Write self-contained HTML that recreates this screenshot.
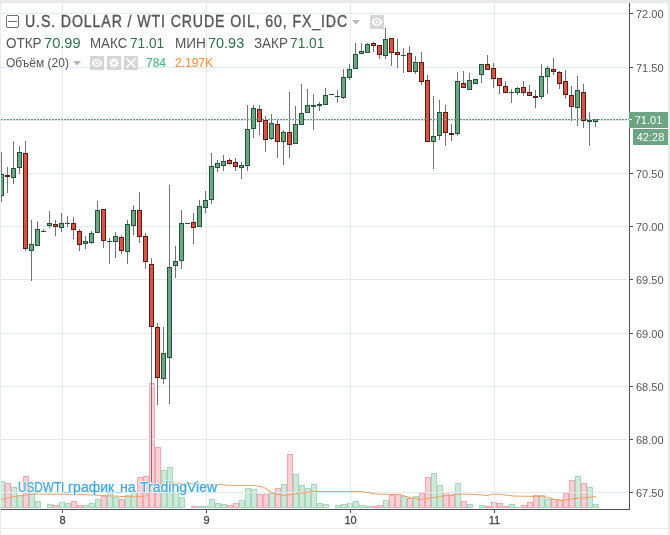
<!DOCTYPE html>
<html><head><meta charset="utf-8"><style>
html,body{margin:0;padding:0;}
body{width:670px;height:535px;background:#e7ebee;position:relative;overflow:hidden;font-family:"Liberation Sans",sans-serif;}
.panel{position:absolute;left:1px;top:3px;width:667px;height:525px;background:#fff;border-radius:3px 4px 0 0;}
.panel2{position:absolute;left:1px;top:529px;width:667px;height:6px;background:#fff;}
svg{position:absolute;left:0;top:0;}
.a{position:absolute;white-space:nowrap;}
.pl{position:absolute;left:636px;font-size:11px;color:#555;line-height:14px;}
.tl{position:absolute;top:513px;width:41px;text-align:center;font-size:11px;color:#444;line-height:14px;-webkit-text-stroke:0.3px #444;}
.t1{top:13px;font-size:16px;line-height:18px;color:#555;transform-origin:0 0;-webkit-text-stroke:0.35px #555;}
.t2{top:34px;font-size:15px;line-height:17px;color:#555;transform-origin:0 0;}
.t2g{top:34px;font-size:15px;line-height:17px;color:#2f6f47;transform-origin:0 0;}
.t3{top:56px;font-size:12px;line-height:14px;}
.box{position:absolute;width:14px;height:14px;background:rgba(200,200,200,0.75);}
.wm{top:480px;font-size:14px;line-height:15px;color:#3fa9dd;-webkit-text-stroke:0.25px #3fa9dd;text-shadow:1px 0 #fff,-1px 0 #fff,0 1px #fff,0 -1px #fff;}
.lbl{position:absolute;background:#6ba583;color:#fff;font-size:11px;line-height:16px;text-align:center;}
</style></head><body>
<div class="panel"></div>
<div class="panel2"></div>
<svg width="670" height="535" shape-rendering="crispEdges">
<rect x="-1" y="481" width="6" height="27" fill="#a3d9bb"/><rect x="0" y="482" width="4" height="25" fill="#cde9da"/><rect x="5" y="483" width="6" height="25" fill="#f4a6b1"/><rect x="6" y="484" width="4" height="23" fill="#f9d0d5"/><rect x="11" y="487" width="6" height="21" fill="#a3d9bb"/><rect x="12" y="488" width="4" height="19" fill="#cde9da"/><rect x="17" y="495" width="6" height="13" fill="#a3d9bb"/><rect x="18" y="496" width="4" height="11" fill="#cde9da"/><rect x="23" y="476" width="6" height="32" fill="#f4a6b1"/><rect x="24" y="477" width="4" height="30" fill="#f9d0d5"/><rect x="29" y="485" width="6" height="23" fill="#a3d9bb"/><rect x="30" y="486" width="4" height="21" fill="#cde9da"/><rect x="35" y="501" width="6" height="7" fill="#a3d9bb"/><rect x="36" y="502" width="4" height="5" fill="#cde9da"/><rect x="47" y="504" width="6" height="4" fill="#a3d9bb"/><rect x="48" y="505" width="4" height="2" fill="#cde9da"/><rect x="53" y="505" width="6" height="3" fill="#f4a6b1"/><rect x="54" y="506" width="4" height="1" fill="#f9d0d5"/><rect x="59" y="502" width="6" height="6" fill="#a3d9bb"/><rect x="60" y="503" width="4" height="4" fill="#cde9da"/><rect x="65" y="503" width="6" height="5" fill="#a3d9bb"/><rect x="66" y="504" width="4" height="3" fill="#cde9da"/><rect x="71" y="501" width="6" height="7" fill="#f4a6b1"/><rect x="72" y="502" width="4" height="5" fill="#f9d0d5"/><rect x="77" y="505" width="6" height="3" fill="#f4a6b1"/><rect x="78" y="506" width="4" height="1" fill="#f9d0d5"/><rect x="83" y="505" width="6" height="3" fill="#a3d9bb"/><rect x="84" y="506" width="4" height="1" fill="#cde9da"/><rect x="89" y="503" width="6" height="5" fill="#a3d9bb"/><rect x="90" y="504" width="4" height="3" fill="#cde9da"/><rect x="95" y="499" width="6" height="9" fill="#a3d9bb"/><rect x="96" y="500" width="4" height="7" fill="#cde9da"/><rect x="101" y="496" width="6" height="12" fill="#f4a6b1"/><rect x="102" y="497" width="4" height="10" fill="#f9d0d5"/><rect x="107" y="492" width="6" height="16" fill="#a3d9bb"/><rect x="108" y="493" width="4" height="14" fill="#cde9da"/><rect x="113" y="497" width="6" height="11" fill="#a3d9bb"/><rect x="114" y="498" width="4" height="9" fill="#cde9da"/><rect x="119" y="499" width="6" height="9" fill="#f4a6b1"/><rect x="120" y="500" width="4" height="7" fill="#f9d0d5"/><rect x="125" y="495" width="6" height="13" fill="#a3d9bb"/><rect x="126" y="496" width="4" height="11" fill="#cde9da"/><rect x="131" y="492" width="6" height="16" fill="#a3d9bb"/><rect x="132" y="493" width="4" height="14" fill="#cde9da"/><rect x="137" y="477" width="6" height="31" fill="#f4a6b1"/><rect x="138" y="478" width="4" height="29" fill="#f9d0d5"/><rect x="143" y="476" width="6" height="32" fill="#f4a6b1"/><rect x="144" y="477" width="4" height="30" fill="#f9d0d5"/><rect x="149" y="383" width="6" height="125" fill="#f4a6b1"/><rect x="150" y="384" width="4" height="123" fill="#f9d0d5"/><rect x="155" y="447" width="6" height="61" fill="#f4a6b1"/><rect x="156" y="448" width="4" height="59" fill="#f9d0d5"/><rect x="161" y="470" width="6" height="38" fill="#a3d9bb"/><rect x="162" y="471" width="4" height="36" fill="#cde9da"/><rect x="167" y="467" width="6" height="41" fill="#a3d9bb"/><rect x="168" y="468" width="4" height="39" fill="#cde9da"/><rect x="173" y="492" width="6" height="16" fill="#a3d9bb"/><rect x="174" y="493" width="4" height="14" fill="#cde9da"/><rect x="179" y="497" width="6" height="11" fill="#a3d9bb"/><rect x="180" y="498" width="4" height="9" fill="#cde9da"/><rect x="191" y="506" width="6" height="2" fill="#f4a6b1"/><rect x="197" y="506" width="6" height="2" fill="#a3d9bb"/><rect x="203" y="506" width="6" height="2" fill="#a3d9bb"/><rect x="209" y="499" width="6" height="9" fill="#a3d9bb"/><rect x="210" y="500" width="4" height="7" fill="#cde9da"/><rect x="215" y="503" width="6" height="5" fill="#a3d9bb"/><rect x="216" y="504" width="4" height="3" fill="#cde9da"/><rect x="221" y="504" width="6" height="4" fill="#a3d9bb"/><rect x="222" y="505" width="4" height="2" fill="#cde9da"/><rect x="227" y="505" width="6" height="3" fill="#f4a6b1"/><rect x="228" y="506" width="4" height="1" fill="#f9d0d5"/><rect x="233" y="503" width="6" height="5" fill="#f4a6b1"/><rect x="234" y="504" width="4" height="3" fill="#f9d0d5"/><rect x="239" y="500" width="6" height="8" fill="#a3d9bb"/><rect x="240" y="501" width="4" height="6" fill="#cde9da"/><rect x="245" y="488" width="6" height="20" fill="#a3d9bb"/><rect x="246" y="489" width="4" height="18" fill="#cde9da"/><rect x="251" y="489" width="6" height="19" fill="#a3d9bb"/><rect x="252" y="490" width="4" height="17" fill="#cde9da"/><rect x="257" y="494" width="6" height="14" fill="#f4a6b1"/><rect x="258" y="495" width="4" height="12" fill="#f9d0d5"/><rect x="263" y="494" width="6" height="14" fill="#f4a6b1"/><rect x="264" y="495" width="4" height="12" fill="#f9d0d5"/><rect x="269" y="493" width="6" height="15" fill="#a3d9bb"/><rect x="270" y="494" width="4" height="13" fill="#cde9da"/><rect x="275" y="488" width="6" height="20" fill="#f4a6b1"/><rect x="276" y="489" width="4" height="18" fill="#f9d0d5"/><rect x="281" y="484" width="6" height="24" fill="#a3d9bb"/><rect x="282" y="485" width="4" height="22" fill="#cde9da"/><rect x="287" y="454" width="6" height="54" fill="#f4a6b1"/><rect x="288" y="455" width="4" height="52" fill="#f9d0d5"/><rect x="293" y="474" width="6" height="34" fill="#a3d9bb"/><rect x="294" y="475" width="4" height="32" fill="#cde9da"/><rect x="299" y="485" width="6" height="23" fill="#a3d9bb"/><rect x="300" y="486" width="4" height="21" fill="#cde9da"/><rect x="305" y="488" width="6" height="20" fill="#a3d9bb"/><rect x="306" y="489" width="4" height="18" fill="#cde9da"/><rect x="311" y="484" width="6" height="24" fill="#a3d9bb"/><rect x="312" y="485" width="4" height="22" fill="#cde9da"/><rect x="317" y="503" width="6" height="5" fill="#a3d9bb"/><rect x="318" y="504" width="4" height="3" fill="#cde9da"/><rect x="323" y="504" width="6" height="4" fill="#a3d9bb"/><rect x="324" y="505" width="4" height="2" fill="#cde9da"/><rect x="335" y="505" width="6" height="3" fill="#a3d9bb"/><rect x="336" y="506" width="4" height="1" fill="#cde9da"/><rect x="341" y="504" width="6" height="4" fill="#a3d9bb"/><rect x="342" y="505" width="4" height="2" fill="#cde9da"/><rect x="347" y="503" width="6" height="5" fill="#a3d9bb"/><rect x="348" y="504" width="4" height="3" fill="#cde9da"/><rect x="353" y="501" width="6" height="7" fill="#a3d9bb"/><rect x="354" y="502" width="4" height="5" fill="#cde9da"/><rect x="359" y="505" width="6" height="3" fill="#a3d9bb"/><rect x="360" y="506" width="4" height="1" fill="#cde9da"/><rect x="365" y="506" width="6" height="2" fill="#a3d9bb"/><rect x="371" y="506" width="6" height="2" fill="#f4a6b1"/><rect x="377" y="505" width="6" height="3" fill="#f4a6b1"/><rect x="378" y="506" width="4" height="1" fill="#f9d0d5"/><rect x="383" y="500" width="6" height="8" fill="#a3d9bb"/><rect x="384" y="501" width="4" height="6" fill="#cde9da"/><rect x="389" y="495" width="6" height="13" fill="#f4a6b1"/><rect x="390" y="496" width="4" height="11" fill="#f9d0d5"/><rect x="395" y="494" width="6" height="14" fill="#f4a6b1"/><rect x="396" y="495" width="4" height="12" fill="#f9d0d5"/><rect x="401" y="496" width="6" height="12" fill="#a3d9bb"/><rect x="402" y="497" width="4" height="10" fill="#cde9da"/><rect x="407" y="498" width="6" height="10" fill="#f4a6b1"/><rect x="408" y="499" width="4" height="8" fill="#f9d0d5"/><rect x="413" y="496" width="6" height="12" fill="#a3d9bb"/><rect x="414" y="497" width="4" height="10" fill="#cde9da"/><rect x="419" y="493" width="6" height="15" fill="#f4a6b1"/><rect x="420" y="494" width="4" height="13" fill="#f9d0d5"/><rect x="425" y="477" width="6" height="31" fill="#f4a6b1"/><rect x="426" y="478" width="4" height="29" fill="#f9d0d5"/><rect x="431" y="473" width="6" height="35" fill="#a3d9bb"/><rect x="432" y="474" width="4" height="33" fill="#cde9da"/><rect x="437" y="485" width="6" height="23" fill="#a3d9bb"/><rect x="438" y="486" width="4" height="21" fill="#cde9da"/><rect x="443" y="492" width="6" height="16" fill="#f4a6b1"/><rect x="444" y="493" width="4" height="14" fill="#f9d0d5"/><rect x="449" y="495" width="6" height="13" fill="#f4a6b1"/><rect x="450" y="496" width="4" height="11" fill="#f9d0d5"/><rect x="455" y="483" width="6" height="25" fill="#a3d9bb"/><rect x="456" y="484" width="4" height="23" fill="#cde9da"/><rect x="461" y="501" width="6" height="7" fill="#f4a6b1"/><rect x="462" y="502" width="4" height="5" fill="#f9d0d5"/><rect x="467" y="504" width="6" height="4" fill="#a3d9bb"/><rect x="468" y="505" width="4" height="2" fill="#cde9da"/><rect x="479" y="505" width="6" height="3" fill="#a3d9bb"/><rect x="480" y="506" width="4" height="1" fill="#cde9da"/><rect x="485" y="506" width="6" height="2" fill="#f4a6b1"/><rect x="491" y="502" width="6" height="6" fill="#f4a6b1"/><rect x="492" y="503" width="4" height="4" fill="#f9d0d5"/><rect x="497" y="503" width="6" height="5" fill="#f4a6b1"/><rect x="498" y="504" width="4" height="3" fill="#f9d0d5"/><rect x="503" y="506" width="6" height="2" fill="#f4a6b1"/><rect x="509" y="504" width="6" height="4" fill="#a3d9bb"/><rect x="510" y="505" width="4" height="2" fill="#cde9da"/><rect x="515" y="507" width="6" height="1" fill="#a3d9bb"/><rect x="521" y="505" width="6" height="3" fill="#f4a6b1"/><rect x="522" y="506" width="4" height="1" fill="#f9d0d5"/><rect x="527" y="502" width="6" height="6" fill="#f4a6b1"/><rect x="528" y="503" width="4" height="4" fill="#f9d0d5"/><rect x="533" y="495" width="6" height="13" fill="#f4a6b1"/><rect x="534" y="496" width="4" height="11" fill="#f9d0d5"/><rect x="539" y="495" width="6" height="13" fill="#a3d9bb"/><rect x="540" y="496" width="4" height="11" fill="#cde9da"/><rect x="545" y="499" width="6" height="9" fill="#a3d9bb"/><rect x="546" y="500" width="4" height="7" fill="#cde9da"/><rect x="551" y="499" width="6" height="9" fill="#f4a6b1"/><rect x="552" y="500" width="4" height="7" fill="#f9d0d5"/><rect x="557" y="500" width="6" height="8" fill="#f4a6b1"/><rect x="558" y="501" width="4" height="6" fill="#f9d0d5"/><rect x="563" y="493" width="6" height="15" fill="#f4a6b1"/><rect x="564" y="494" width="4" height="13" fill="#f9d0d5"/><rect x="569" y="480" width="6" height="28" fill="#f4a6b1"/><rect x="570" y="481" width="4" height="26" fill="#f9d0d5"/><rect x="575" y="476" width="6" height="32" fill="#a3d9bb"/><rect x="576" y="477" width="4" height="30" fill="#cde9da"/><rect x="581" y="483" width="6" height="25" fill="#f4a6b1"/><rect x="582" y="484" width="4" height="23" fill="#f9d0d5"/><rect x="587" y="487" width="6" height="21" fill="#a3d9bb"/><rect x="588" y="488" width="4" height="19" fill="#cde9da"/><rect x="593" y="504" width="6" height="4" fill="#a3d9bb"/><rect x="594" y="505" width="4" height="2" fill="#cde9da"/>
<rect x="1" y="13" width="627" height="1" fill="#e0ebf1"/><rect x="1" y="67" width="627" height="1" fill="#e0ebf1"/><rect x="1" y="120" width="627" height="1" fill="#e0ebf1"/><rect x="1" y="173" width="627" height="1" fill="#e0ebf1"/><rect x="1" y="226" width="627" height="1" fill="#e0ebf1"/><rect x="1" y="279" width="627" height="1" fill="#e0ebf1"/><rect x="1" y="333" width="627" height="1" fill="#e0ebf1"/><rect x="1" y="386" width="627" height="1" fill="#e0ebf1"/><rect x="1" y="439" width="627" height="1" fill="#e0ebf1"/><rect x="1" y="492" width="627" height="1" fill="#e0ebf1"/><rect x="62" y="3" width="1" height="505" fill="#e0ebf1"/><rect x="206" y="3" width="1" height="505" fill="#e0ebf1"/><rect x="350" y="3" width="1" height="505" fill="#e0ebf1"/><rect x="494" y="3" width="1" height="505" fill="#e0ebf1"/>
</svg>
<svg width="670" height="535"><polyline points="1,499.5 13,496.8 27,494.8 35,494.1 78,494.4 90,494.9 103,495.5 117,496.2 130,496.8 144,496.4 148,494.8 152,490 158,486 166,484 174,483 184,483.4 204,484.4 217,484.4 225,485 231,485.4 254,485.4 264,487.4 270,491.5 276,494.1 284,495.5 293,494.1 304,492.8 313,491.5 361,491.5 377,494.1 390,494.4 399,494.4 410,497.5 421,499.5 430,498.1 444,495.9 457,494.1 471,494.4 480,494.8 487,495.5 494,494.1 501,494.4 514,496.1 533,496.4 543,496.4 548,497.5 553,499.1 563,500.2 570,499.1 580,498.1 588,497.5 596,496.4" fill="none" stroke="#f6a05a" stroke-width="1" stroke-linejoin="round"/></svg>
<svg width="670" height="535" shape-rendering="crispEdges">
<rect x="1" y="152" width="1" height="50" fill="#737375"/><rect x="-1" y="174" width="5" height="22" fill="#225437"/><rect x="0" y="175" width="3" height="20" fill="#6ba583"/><rect x="7" y="167" width="1" height="26" fill="#737375"/><rect x="5" y="175" width="5" height="2" fill="#5b1a13"/><rect x="13" y="141" width="1" height="43" fill="#737375"/><rect x="11" y="168" width="5" height="10" fill="#225437"/><rect x="12" y="169" width="3" height="8" fill="#6ba583"/><rect x="19" y="146" width="1" height="28" fill="#737375"/><rect x="17" y="152" width="5" height="16" fill="#225437"/><rect x="18" y="153" width="3" height="14" fill="#6ba583"/><rect x="25" y="141" width="1" height="110" fill="#737375"/><rect x="23" y="153" width="5" height="96" fill="#5b1a13"/><rect x="24" y="154" width="3" height="94" fill="#d75442"/><rect x="31" y="220" width="1" height="61" fill="#737375"/><rect x="29" y="244" width="5" height="7" fill="#225437"/><rect x="30" y="245" width="3" height="5" fill="#6ba583"/><rect x="37" y="221" width="1" height="25" fill="#737375"/><rect x="35" y="229" width="5" height="17" fill="#225437"/><rect x="36" y="230" width="3" height="15" fill="#6ba583"/><rect x="43" y="229" width="1" height="3" fill="#737375"/><rect x="41" y="231" width="5" height="1" fill="#225437"/><rect x="49" y="211" width="1" height="17" fill="#737375"/><rect x="47" y="223" width="5" height="3" fill="#225437"/><rect x="48" y="224" width="3" height="1" fill="#6ba583"/><rect x="55" y="220" width="1" height="16" fill="#737375"/><rect x="53" y="224" width="5" height="3" fill="#5b1a13"/><rect x="54" y="225" width="3" height="1" fill="#d75442"/><rect x="61" y="213" width="1" height="19" fill="#737375"/><rect x="59" y="223" width="5" height="5" fill="#225437"/><rect x="60" y="224" width="3" height="3" fill="#6ba583"/><rect x="67" y="216" width="1" height="11" fill="#737375"/><rect x="65" y="223" width="5" height="1" fill="#225437"/><rect x="73" y="217" width="1" height="22" fill="#737375"/><rect x="71" y="223" width="5" height="7" fill="#5b1a13"/><rect x="72" y="224" width="3" height="5" fill="#d75442"/><rect x="79" y="229" width="1" height="22" fill="#737375"/><rect x="77" y="231" width="5" height="14" fill="#5b1a13"/><rect x="78" y="232" width="3" height="12" fill="#d75442"/><rect x="85" y="236" width="1" height="13" fill="#737375"/><rect x="83" y="241" width="5" height="3" fill="#225437"/><rect x="84" y="242" width="3" height="1" fill="#6ba583"/><rect x="91" y="231" width="1" height="13" fill="#737375"/><rect x="89" y="233" width="5" height="10" fill="#225437"/><rect x="90" y="234" width="3" height="8" fill="#6ba583"/><rect x="97" y="201" width="1" height="32" fill="#737375"/><rect x="95" y="210" width="5" height="23" fill="#225437"/><rect x="96" y="211" width="3" height="21" fill="#6ba583"/><rect x="103" y="209" width="1" height="39" fill="#737375"/><rect x="101" y="209" width="5" height="32" fill="#5b1a13"/><rect x="102" y="210" width="3" height="30" fill="#d75442"/><rect x="109" y="238" width="1" height="26" fill="#737375"/><rect x="107" y="241" width="5" height="1" fill="#225437"/><rect x="115" y="232" width="1" height="26" fill="#737375"/><rect x="113" y="236" width="5" height="6" fill="#225437"/><rect x="114" y="237" width="3" height="4" fill="#6ba583"/><rect x="121" y="235" width="1" height="19" fill="#737375"/><rect x="119" y="237" width="5" height="14" fill="#5b1a13"/><rect x="120" y="238" width="3" height="12" fill="#d75442"/><rect x="127" y="220" width="1" height="44" fill="#737375"/><rect x="125" y="224" width="5" height="28" fill="#225437"/><rect x="126" y="225" width="3" height="26" fill="#6ba583"/><rect x="133" y="205" width="1" height="30" fill="#737375"/><rect x="131" y="210" width="5" height="16" fill="#225437"/><rect x="132" y="211" width="3" height="14" fill="#6ba583"/><rect x="139" y="192" width="1" height="51" fill="#737375"/><rect x="137" y="210" width="5" height="27" fill="#5b1a13"/><rect x="138" y="211" width="3" height="25" fill="#d75442"/><rect x="145" y="233" width="1" height="36" fill="#737375"/><rect x="143" y="236" width="5" height="26" fill="#5b1a13"/><rect x="144" y="237" width="3" height="24" fill="#d75442"/><rect x="151" y="258" width="1" height="224" fill="#737375"/><rect x="149" y="264" width="5" height="63" fill="#5b1a13"/><rect x="150" y="265" width="3" height="61" fill="#d75442"/><rect x="157" y="323" width="1" height="82" fill="#737375"/><rect x="155" y="327" width="5" height="51" fill="#5b1a13"/><rect x="156" y="328" width="3" height="49" fill="#d75442"/><rect x="163" y="327" width="1" height="57" fill="#737375"/><rect x="161" y="353" width="5" height="26" fill="#225437"/><rect x="162" y="354" width="3" height="24" fill="#6ba583"/><rect x="169" y="185" width="1" height="219" fill="#737375"/><rect x="167" y="267" width="5" height="91" fill="#225437"/><rect x="168" y="268" width="3" height="89" fill="#6ba583"/><rect x="175" y="246" width="1" height="32" fill="#737375"/><rect x="173" y="261" width="5" height="5" fill="#225437"/><rect x="174" y="262" width="3" height="3" fill="#6ba583"/><rect x="181" y="210" width="1" height="59" fill="#737375"/><rect x="179" y="223" width="5" height="38" fill="#225437"/><rect x="180" y="224" width="3" height="36" fill="#6ba583"/><rect x="187" y="223" width="1" height="1" fill="#737375"/><rect x="185" y="223" width="5" height="1" fill="#225437"/><rect x="193" y="213" width="1" height="31" fill="#737375"/><rect x="191" y="222" width="5" height="6" fill="#5b1a13"/><rect x="192" y="223" width="3" height="4" fill="#d75442"/><rect x="199" y="200" width="1" height="27" fill="#737375"/><rect x="197" y="206" width="5" height="21" fill="#225437"/><rect x="198" y="207" width="3" height="19" fill="#6ba583"/><rect x="205" y="191" width="1" height="22" fill="#737375"/><rect x="203" y="200" width="5" height="8" fill="#225437"/><rect x="204" y="201" width="3" height="6" fill="#6ba583"/><rect x="211" y="153" width="1" height="51" fill="#737375"/><rect x="209" y="166" width="5" height="34" fill="#225437"/><rect x="210" y="167" width="3" height="32" fill="#6ba583"/><rect x="217" y="160" width="1" height="12" fill="#737375"/><rect x="215" y="163" width="5" height="5" fill="#225437"/><rect x="216" y="164" width="3" height="3" fill="#6ba583"/><rect x="223" y="155" width="1" height="16" fill="#737375"/><rect x="221" y="161" width="5" height="5" fill="#225437"/><rect x="222" y="162" width="3" height="3" fill="#6ba583"/><rect x="229" y="158" width="1" height="7" fill="#737375"/><rect x="227" y="160" width="5" height="4" fill="#5b1a13"/><rect x="228" y="161" width="3" height="2" fill="#d75442"/><rect x="235" y="158" width="1" height="13" fill="#737375"/><rect x="233" y="162" width="5" height="5" fill="#5b1a13"/><rect x="234" y="163" width="3" height="3" fill="#d75442"/><rect x="241" y="162" width="1" height="17" fill="#737375"/><rect x="239" y="165" width="5" height="3" fill="#225437"/><rect x="240" y="166" width="3" height="1" fill="#6ba583"/><rect x="247" y="105" width="1" height="66" fill="#737375"/><rect x="245" y="129" width="5" height="37" fill="#225437"/><rect x="246" y="130" width="3" height="35" fill="#6ba583"/><rect x="253" y="105" width="1" height="33" fill="#737375"/><rect x="251" y="108" width="5" height="21" fill="#225437"/><rect x="252" y="109" width="3" height="19" fill="#6ba583"/><rect x="259" y="105" width="1" height="30" fill="#737375"/><rect x="257" y="109" width="5" height="13" fill="#5b1a13"/><rect x="258" y="110" width="3" height="11" fill="#d75442"/><rect x="265" y="116" width="1" height="36" fill="#737375"/><rect x="263" y="120" width="5" height="20" fill="#5b1a13"/><rect x="264" y="121" width="3" height="18" fill="#d75442"/><rect x="271" y="114" width="1" height="26" fill="#737375"/><rect x="269" y="123" width="5" height="16" fill="#225437"/><rect x="270" y="124" width="3" height="14" fill="#6ba583"/><rect x="277" y="120" width="1" height="38" fill="#737375"/><rect x="275" y="124" width="5" height="18" fill="#5b1a13"/><rect x="276" y="125" width="3" height="16" fill="#d75442"/><rect x="283" y="130" width="1" height="35" fill="#737375"/><rect x="281" y="132" width="5" height="10" fill="#225437"/><rect x="282" y="133" width="3" height="8" fill="#6ba583"/><rect x="289" y="92" width="1" height="66" fill="#737375"/><rect x="287" y="132" width="5" height="13" fill="#5b1a13"/><rect x="288" y="133" width="3" height="11" fill="#d75442"/><rect x="295" y="106" width="1" height="38" fill="#737375"/><rect x="293" y="124" width="5" height="20" fill="#225437"/><rect x="294" y="125" width="3" height="18" fill="#6ba583"/><rect x="301" y="84" width="1" height="41" fill="#737375"/><rect x="299" y="113" width="5" height="12" fill="#225437"/><rect x="300" y="114" width="3" height="10" fill="#6ba583"/><rect x="307" y="89" width="1" height="24" fill="#737375"/><rect x="305" y="105" width="5" height="8" fill="#225437"/><rect x="306" y="106" width="3" height="6" fill="#6ba583"/><rect x="313" y="94" width="1" height="36" fill="#737375"/><rect x="311" y="105" width="5" height="2" fill="#225437"/><rect x="319" y="102" width="1" height="9" fill="#737375"/><rect x="317" y="104" width="5" height="2" fill="#225437"/><rect x="325" y="88" width="1" height="17" fill="#737375"/><rect x="323" y="95" width="5" height="10" fill="#225437"/><rect x="324" y="96" width="3" height="8" fill="#6ba583"/><rect x="331" y="94" width="1" height="1" fill="#737375"/><rect x="329" y="94" width="5" height="1" fill="#225437"/><rect x="337" y="90" width="1" height="13" fill="#737375"/><rect x="335" y="96" width="5" height="1" fill="#225437"/><rect x="343" y="69" width="1" height="30" fill="#737375"/><rect x="341" y="77" width="5" height="21" fill="#225437"/><rect x="342" y="78" width="3" height="19" fill="#6ba583"/><rect x="349" y="64" width="1" height="16" fill="#737375"/><rect x="347" y="69" width="5" height="9" fill="#225437"/><rect x="348" y="70" width="3" height="7" fill="#6ba583"/><rect x="355" y="43" width="1" height="26" fill="#737375"/><rect x="353" y="54" width="5" height="15" fill="#225437"/><rect x="354" y="55" width="3" height="13" fill="#6ba583"/><rect x="361" y="43" width="1" height="11" fill="#737375"/><rect x="359" y="51" width="5" height="3" fill="#225437"/><rect x="360" y="52" width="3" height="1" fill="#6ba583"/><rect x="367" y="43" width="1" height="10" fill="#737375"/><rect x="365" y="44" width="5" height="9" fill="#225437"/><rect x="366" y="45" width="3" height="7" fill="#6ba583"/><rect x="373" y="42" width="1" height="10" fill="#737375"/><rect x="371" y="43" width="5" height="3" fill="#5b1a13"/><rect x="372" y="44" width="3" height="1" fill="#d75442"/><rect x="379" y="45" width="1" height="14" fill="#737375"/><rect x="377" y="45" width="5" height="10" fill="#5b1a13"/><rect x="378" y="46" width="3" height="8" fill="#d75442"/><rect x="385" y="28" width="1" height="31" fill="#737375"/><rect x="383" y="39" width="5" height="17" fill="#225437"/><rect x="384" y="40" width="3" height="15" fill="#6ba583"/><rect x="391" y="38" width="1" height="28" fill="#737375"/><rect x="389" y="38" width="5" height="15" fill="#5b1a13"/><rect x="390" y="39" width="3" height="13" fill="#d75442"/><rect x="397" y="39" width="1" height="29" fill="#737375"/><rect x="395" y="52" width="5" height="3" fill="#5b1a13"/><rect x="396" y="53" width="3" height="1" fill="#d75442"/><rect x="403" y="48" width="1" height="25" fill="#737375"/><rect x="401" y="55" width="5" height="1" fill="#225437"/><rect x="409" y="46" width="1" height="26" fill="#737375"/><rect x="407" y="53" width="5" height="19" fill="#5b1a13"/><rect x="408" y="54" width="3" height="17" fill="#d75442"/><rect x="415" y="56" width="1" height="18" fill="#737375"/><rect x="413" y="62" width="5" height="10" fill="#225437"/><rect x="414" y="63" width="3" height="8" fill="#6ba583"/><rect x="421" y="52" width="1" height="33" fill="#737375"/><rect x="419" y="62" width="5" height="20" fill="#5b1a13"/><rect x="420" y="63" width="3" height="18" fill="#d75442"/><rect x="427" y="75" width="1" height="67" fill="#737375"/><rect x="425" y="80" width="5" height="62" fill="#5b1a13"/><rect x="426" y="81" width="3" height="60" fill="#d75442"/><rect x="433" y="96" width="1" height="73" fill="#737375"/><rect x="431" y="136" width="5" height="6" fill="#225437"/><rect x="432" y="137" width="3" height="4" fill="#6ba583"/><rect x="439" y="100" width="1" height="40" fill="#737375"/><rect x="437" y="112" width="5" height="24" fill="#225437"/><rect x="438" y="113" width="3" height="22" fill="#6ba583"/><rect x="445" y="105" width="1" height="41" fill="#737375"/><rect x="443" y="112" width="5" height="21" fill="#5b1a13"/><rect x="444" y="113" width="3" height="19" fill="#d75442"/><rect x="451" y="124" width="1" height="17" fill="#737375"/><rect x="449" y="133" width="5" height="2" fill="#5b1a13"/><rect x="457" y="72" width="1" height="64" fill="#737375"/><rect x="455" y="81" width="5" height="53" fill="#225437"/><rect x="456" y="82" width="3" height="51" fill="#6ba583"/><rect x="463" y="71" width="1" height="17" fill="#737375"/><rect x="461" y="83" width="5" height="5" fill="#5b1a13"/><rect x="462" y="84" width="3" height="3" fill="#d75442"/><rect x="469" y="73" width="1" height="17" fill="#737375"/><rect x="467" y="80" width="5" height="10" fill="#225437"/><rect x="468" y="81" width="3" height="8" fill="#6ba583"/><rect x="475" y="79" width="1" height="5" fill="#737375"/><rect x="473" y="79" width="5" height="5" fill="#225437"/><rect x="474" y="80" width="3" height="3" fill="#6ba583"/><rect x="481" y="64" width="1" height="19" fill="#737375"/><rect x="479" y="64" width="5" height="11" fill="#225437"/><rect x="480" y="65" width="3" height="9" fill="#6ba583"/><rect x="487" y="55" width="1" height="15" fill="#737375"/><rect x="485" y="64" width="5" height="6" fill="#5b1a13"/><rect x="486" y="65" width="3" height="4" fill="#d75442"/><rect x="493" y="63" width="1" height="25" fill="#737375"/><rect x="491" y="68" width="5" height="11" fill="#5b1a13"/><rect x="492" y="69" width="3" height="9" fill="#d75442"/><rect x="499" y="78" width="1" height="16" fill="#737375"/><rect x="497" y="78" width="5" height="8" fill="#5b1a13"/><rect x="498" y="79" width="3" height="6" fill="#d75442"/><rect x="505" y="81" width="1" height="12" fill="#737375"/><rect x="503" y="86" width="5" height="7" fill="#5b1a13"/><rect x="504" y="87" width="3" height="5" fill="#d75442"/><rect x="511" y="89" width="1" height="14" fill="#737375"/><rect x="509" y="92" width="5" height="1" fill="#225437"/><rect x="517" y="87" width="1" height="8" fill="#737375"/><rect x="515" y="88" width="5" height="5" fill="#225437"/><rect x="516" y="89" width="3" height="3" fill="#6ba583"/><rect x="523" y="81" width="1" height="15" fill="#737375"/><rect x="521" y="87" width="5" height="6" fill="#5b1a13"/><rect x="522" y="88" width="3" height="4" fill="#d75442"/><rect x="529" y="85" width="1" height="11" fill="#737375"/><rect x="527" y="92" width="5" height="4" fill="#5b1a13"/><rect x="528" y="93" width="3" height="2" fill="#d75442"/><rect x="535" y="90" width="1" height="18" fill="#737375"/><rect x="533" y="96" width="5" height="2" fill="#5b1a13"/><rect x="541" y="64" width="1" height="35" fill="#737375"/><rect x="539" y="76" width="5" height="21" fill="#225437"/><rect x="540" y="77" width="3" height="19" fill="#6ba583"/><rect x="547" y="66" width="1" height="28" fill="#737375"/><rect x="545" y="68" width="5" height="9" fill="#225437"/><rect x="546" y="69" width="3" height="7" fill="#6ba583"/><rect x="553" y="58" width="1" height="17" fill="#737375"/><rect x="551" y="69" width="5" height="3" fill="#5b1a13"/><rect x="552" y="70" width="3" height="1" fill="#d75442"/><rect x="559" y="71" width="1" height="18" fill="#737375"/><rect x="557" y="72" width="5" height="12" fill="#5b1a13"/><rect x="558" y="73" width="3" height="10" fill="#d75442"/><rect x="565" y="70" width="1" height="29" fill="#737375"/><rect x="563" y="81" width="5" height="14" fill="#5b1a13"/><rect x="564" y="82" width="3" height="12" fill="#d75442"/><rect x="571" y="86" width="1" height="35" fill="#737375"/><rect x="569" y="95" width="5" height="12" fill="#5b1a13"/><rect x="570" y="96" width="3" height="10" fill="#d75442"/><rect x="577" y="76" width="1" height="50" fill="#737375"/><rect x="575" y="90" width="5" height="18" fill="#225437"/><rect x="576" y="91" width="3" height="16" fill="#6ba583"/><rect x="583" y="84" width="1" height="44" fill="#737375"/><rect x="581" y="92" width="5" height="29" fill="#5b1a13"/><rect x="582" y="93" width="3" height="27" fill="#d75442"/><rect x="589" y="112" width="1" height="34" fill="#737375"/><rect x="587" y="120" width="5" height="2" fill="#225437"/><rect x="595" y="119" width="1" height="8" fill="#737375"/><rect x="593" y="119" width="5" height="3" fill="#225437"/><rect x="594" y="120" width="3" height="1" fill="#6ba583"/>
<line x1="1" y1="119.5" x2="629" y2="119.5" stroke="#5c9d74" stroke-width="1" stroke-dasharray="2,1"/>
<rect x="629" y="3" width="1" height="507" fill="#4f4f4f"/><rect x="1" y="509" width="629" height="1" fill="#4f4f4f"/><rect x="630" y="13" width="3" height="1" fill="#4f4f4f"/><rect x="630" y="67" width="3" height="1" fill="#4f4f4f"/><rect x="630" y="120" width="3" height="1" fill="#4f4f4f"/><rect x="630" y="173" width="3" height="1" fill="#4f4f4f"/><rect x="630" y="226" width="3" height="1" fill="#4f4f4f"/><rect x="630" y="279" width="3" height="1" fill="#4f4f4f"/><rect x="630" y="333" width="3" height="1" fill="#4f4f4f"/><rect x="630" y="386" width="3" height="1" fill="#4f4f4f"/><rect x="630" y="439" width="3" height="1" fill="#4f4f4f"/><rect x="630" y="492" width="3" height="1" fill="#4f4f4f"/><rect x="62" y="510" width="1" height="3" fill="#4f4f4f"/><rect x="206" y="510" width="1" height="3" fill="#4f4f4f"/><rect x="350" y="510" width="1" height="3" fill="#4f4f4f"/><rect x="494" y="510" width="1" height="3" fill="#4f4f4f"/>
<rect x="0" y="0" width="1" height="535" fill="#e7ebee"/>
</svg>
<div style="position:absolute;left:0;top:0;width:670px;height:535px;will-change:transform">
<div class="pl" style="top:7px">72.00</div><div class="pl" style="top:61px">71.50</div><div class="pl" style="top:167px">70.50</div><div class="pl" style="top:220px">70.00</div><div class="pl" style="top:273px">69.50</div><div class="pl" style="top:327px">69.00</div><div class="pl" style="top:380px">68.50</div><div class="pl" style="top:433px">68.00</div><div class="pl" style="top:486px">67.50</div>
<div class="tl" style="left:42px">8</div><div class="tl" style="left:186px">9</div><div class="tl" style="left:330px">10</div><div class="tl" style="left:474px">11</div>
<div class="lbl" style="left:629px;top:112px;width:39px;height:16px;">71.01</div>
<div style="position:absolute;left:629px;top:119px;width:3px;height:1px;background:#fff"></div>
<div class="lbl" style="left:633px;top:129px;width:35px;height:16px;">42:28</div>
<svg width="14" height="14" style="left:6px;top:15px" shape-rendering="crispEdges"><path d="M1,0h11v1h-11z M0,1h1v11h-1z M12,1h1v11h-1z M1,12h11v1h-11z M2,6h9v1h-9z" fill="#707070"/></svg>
<div class="a t1" style="left:25.02px;transform:scaleX(0.8843);letter-spacing:1px">U.S. DOLLAR / WTI CRUDE OIL, 60, FX_IDC</div>
<svg width="8" height="5" style="position:absolute;left:352px;top:20px"><path d="M0,0 L8,0 L4,4.5 Z" fill="#b5b5b5"/></svg>
<div class="box" style="left:370px;top:15px"><svg width="14" height="14" style="position:absolute;left:0;top:0"><path d="M1.8,7 C3.4,1.5 10.6,1.5 12.2,7 C10.6,12.5 3.4,12.5 1.8,7 Z" fill="#fff"/><circle cx="7" cy="7" r="2.7" fill="#d6d6d6"/><circle cx="7" cy="7" r="1.3" fill="#fff"/></svg></div>
<div class="a t2" style="left:6.0px;transform:scaleX(0.90)">ОТКР</div><div class="a t2g" style="left:44.0px;transform:scaleX(0.975)">70.99</div>
<div class="a t2" style="left:90.1px;transform:scaleX(0.89)">МАКС</div><div class="a t2g" style="left:130.1px;transform:scaleX(0.91)">71.01</div>
<div class="a t2" style="left:174.9px;transform:scaleX(0.905)">МИН</div><div class="a t2g" style="left:207.8px;transform:scaleX(0.965)">70.93</div>
<div class="a t2" style="left:253.7px;transform:scaleX(0.895)">ЗАКР</div><div class="a t2g" style="left:290.3px;transform:scaleX(0.915)">71.01</div>
<div class="a t3" style="left:6px;color:#555">Объём (20)</div>
<svg width="8" height="5" style="position:absolute;left:72.5px;top:61px"><path d="M0,0 L8,0 L4,4.5 Z" fill="#b5b5b5"/></svg>
<div class="box" style="left:90px;top:56px"><svg width="14" height="14" style="position:absolute;left:0;top:0"><path d="M1.8,7 C3.4,1.5 10.6,1.5 12.2,7 C10.6,12.5 3.4,12.5 1.8,7 Z" fill="#fff"/><circle cx="7" cy="7" r="2.7" fill="#d6d6d6"/><circle cx="7" cy="7" r="1.3" fill="#fff"/></svg></div>
<div class="box" style="left:107px;top:56px"><svg width="14" height="14" style="position:absolute;left:0;top:0"><polygon points="6.49,1.83 7.51,1.83 8.05,3.56 8.70,3.83 10.30,2.98 11.02,3.70 10.17,5.30 10.44,5.95 12.17,6.49 12.17,7.51 10.44,8.05 10.17,8.70 11.02,10.30 10.30,11.02 8.70,10.17 8.05,10.44 7.51,12.17 6.49,12.17 5.95,10.44 5.30,10.17 3.70,11.02 2.98,10.30 3.83,8.70 3.56,8.05 1.83,7.51 1.83,6.49 3.56,5.95 3.83,5.30 2.98,3.70 3.70,2.98 5.30,3.83 5.95,3.56" fill="#fff"/><circle cx="7" cy="7" r="1.8" fill="#d6d6d6"/></svg></div>
<div class="box" style="left:124px;top:56px"><svg width="14" height="14" style="position:absolute;left:0;top:0"><path d="M2.5,2.5 L11.5,11.5 M11.5,2.5 L2.5,11.5" stroke="#fff" stroke-width="1.7"/></svg></div>
<div class="a t3" style="left:146px;color:#53b688;-webkit-text-stroke:0.2px #53b688">784</div>
<div class="a t3" style="left:175px;color:#f8964c;-webkit-text-stroke:0.2px #f8964c">2.197K</div>
<div class="a wm" style="left:18px;transform-origin:0 0;transform:scaleX(0.84)">USDWTI</div>
<div class="a wm" style="left:68px">график</div>
<div class="a wm" style="left:120px">на</div>
<div class="a wm" style="left:140px">TradingView</div>
<div style="position:absolute;left:64px;top:492px;width:5px;height:1px;background:#9ccfee"></div>
<div style="position:absolute;left:116px;top:492px;width:5px;height:1px;background:#9ccfee"></div>
</div>
</body></html>
